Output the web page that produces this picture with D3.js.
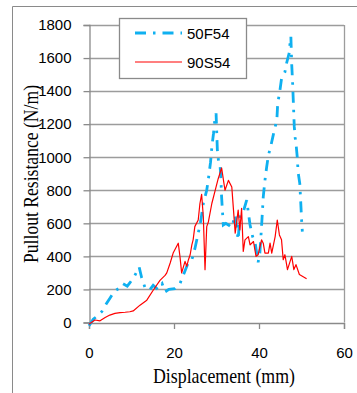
<!DOCTYPE html>
<html>
<head>
<meta charset="utf-8">
<script src="https://cdn.jsdelivr.net/npm/d3@7"></script>
<style>
	body { margin: 0; background: #fff; }
	svg { display: block; }
</style>
</head>
<body>
<svg id="chart" width="357" height="393"></svg>
<script>
// series names
var seriesNames = ['50F54', '90S54'];

// 50F54 : [displacement mm, resistance N/m]
var f54 = [[0,-20],[1,20],[2,40],[3,65],[4,110],[5,150],[6,190],[7,205],[8,235],[9,220],[9.6,240],[10.5,270],[11.2,305],[11.8,335],
	[12.4,270],[13.2,210],[14.2,195],[15.1,225],[16.2,200],[17.2,235],[17.9,185],[18.8,200],[20.2,205],[21.4,235],[22.4,300],[23.4,365],
	[24.2,380],[24.9,445],[25.7,540],[26.3,615],[26.9,720],[27.7,800],[28.1,870],[28.6,970],[28.9,1060],[29.3,1145],[29.6,1225],[29.9,1265],
	[30.2,1045],[30.5,970],[30.8,960],[31.0,890],[31.2,760],[31.6,590],[32.2,600],[32.8,590],[33.6,575],[34.4,650],[35.1,500],[35.5,650],
	[36.3,670],[37.1,740],[37.9,590],[38.5,520],[39.1,480],[39.8,365],[40.2,420],[40.6,580],[41.0,760],[41.4,860],[41.8,940],[42.2,1010],
	[42.8,1070],[43.4,1140],[44.2,1225],[44.4,1325],[44.9,1400],[45.3,1475],[46.1,1515],[46.5,1570],[47.1,1630],[47.3,1690],[47.5,1730],
	[47.7,1560],[47.9,1455],[48.1,1320],[48.3,1185],[48.5,1120],[48.7,1085],[49.0,1000],[49.2,910],[49.6,840],[49.8,740],[50.0,630],[50.2,550]];

// 90S54
var s54 = [[0,-10],[1.4,15],[2.6,10],[3.8,30],[4.9,45],[6.1,55],[7.3,60],[8.5,62],[9.6,65],[10.4,70],[12,105],[13.6,135],[15.1,195],
	[16.7,255],[17.9,285],[18.3,300],[19.1,360],[19.8,420],[21,480],[21.4,400],[21.8,300],[22.6,370],[23,340],[23.4,380],[23.8,410],
	[24.2,470],[24.5,500],[24.9,580],[25.7,620],[26.1,720],[26.5,775],[26.9,640],[27.3,320],[27.7,580],[28.1,610],[28.9,720],[29.6,790],
	[30.4,870],[31.2,935],[32,800],[32.8,860],[33.6,820],[34.0,680],[34.4,540],[35.1,680],[35.5,560],[35.9,690],[36.3,430],[36.7,500],
	[37.5,520],[37.9,470],[38.7,490],[39.3,400],[39.8,410],[40.6,500],[41.0,480],[41.4,420],[42.2,420],[42.6,480],[43.0,420],[43.8,520],
	[44.3,620],[44.8,530],[45.3,500],[45.7,380],[46.1,410],[46.7,320],[47.7,400],[48.2,320],[48.7,350],[49.5,290],[50.4,277],[51.2,265]];

var xTicks = [0, 20, 40, 60];
var yTicks = [0, 200, 400, 600, 800, 1000, 1200, 1400, 1600, 1800];

var svg = d3.select('#chart');

var plotLeft = 89, plotRight = 344, plotTop = 25, plotBottom = 322.5;

var x = d3.scaleLinear().domain([0, 60]).range([plotLeft, plotRight]);
var y = d3.scaleLinear().domain([0, 1800]).range([plotBottom, plotTop]);

// outer frame, cut off by the picture
svg.append('path')
	.attr('d', 'M12.5,400 V6.5 H400')
	.attr('fill', 'none')
	.attr('stroke', '#8a8a8a')
	.attr('stroke-width', 1);

// gridlines
svg.append('g')
	.selectAll('line')
	.data(yTicks.slice(1))
	.enter().append('line')
	.attr('x1', plotLeft).attr('x2', plotRight)
	.attr('y1', function(d) { return Math.round(y(d)) + 0.5; })
	.attr('y2', function(d) { return Math.round(y(d)) + 0.5; })
	.attr('stroke', '#9c9c9c')
	.attr('stroke-width', 1.3);

// right border of plot
svg.append('line')
	.attr('x1', plotRight + 0.5).attr('x2', plotRight + 0.5)
	.attr('y1', plotTop).attr('y2', plotBottom)
	.attr('stroke', '#9c9c9c')
	.attr('stroke-width', 1.3);

var yAxis = svg.append('g')
	.attr('transform', 'translate(' + (plotLeft + 0.5) + ',0)')
	.call(d3.axisLeft(y).tickValues(yTicks).tickSize(6).tickPadding(12).tickFormat(d3.format('d')));

var xAxis = svg.append('g')
	.attr('transform', 'translate(0,' + (plotBottom + 0.5) + ')')
	.call(d3.axisBottom(x).tickValues(xTicks).tickSize(6).tickPadding(18));

[xAxis, yAxis].forEach(function(a) {
	a.select('.domain').attr('stroke', '#8a8a8a').attr('stroke-width', 1.3);
	a.selectAll('.tick line').attr('stroke', '#8a8a8a').attr('stroke-width', 1.3);
	a.selectAll('.tick text')
		.attr('fill', '#000')
		.style('font-family', '"Liberation Sans", Arial, sans-serif')
		.style('font-size', '15px');
});

var line = d3.line()
	.x(function(d) { return x(d[0]); })
	.y(function(d) { return y(d[1]); });

svg.append('path')
	.datum(f54)
	.attr('d', line)
	.attr('fill', 'none')
	.attr('stroke', '#0fb0f0')
	.attr('stroke-width', 2.8)
	.attr('stroke-dasharray', '11,7,2.5,7');

svg.append('path')
	.datum(s54)
	.attr('d', line)
	.attr('fill', 'none')
	.attr('stroke', '#ff0000')
	.attr('stroke-width', 1.2)
	.attr('stroke-linejoin', 'round');

// axis titles (narrow serif, squeezed to the measured length)
svg.append('text')
	.attr('x', 224)
	.attr('y', 383)
	.attr('text-anchor', 'middle')
	.attr('textLength', 142)
	.attr('lengthAdjust', 'spacingAndGlyphs')
	.style('font-family', '"Liberation Serif", "Times New Roman", serif')
	.style('font-size', '22px')
	.text('Displacement (mm)');

svg.append('text')
	.attr('transform', 'translate(38,174) rotate(-90)')
	.attr('text-anchor', 'middle')
	.attr('textLength', 178)
	.attr('lengthAdjust', 'spacingAndGlyphs')
	.style('font-family', '"Liberation Serif", "Times New Roman", serif')
	.style('font-size', '22px')
	.text('Pullout Resistance (N/m)');

// legend
var legend = svg.append('g');
legend.append('rect')
	.attr('x', 119.5).attr('y', 18.5)
	.attr('width', 127).attr('height', 60)
	.attr('fill', '#fff')
	.attr('stroke', '#8a8a8a')
	.attr('stroke-width', 1.3);

var legendStyle = [
	{ color: '#0fb0f0', width: 2.8, dash: '11,7,2.5,7', ly: 33 },
	{ color: '#ff0000', width: 1.2, dash: null, ly: 62 }
];

seriesNames.forEach(function(name, i) {
	var s = legendStyle[i];
	legend.append('line')
		.attr('x1', 135).attr('x2', 182)
		.attr('y1', s.ly).attr('y2', s.ly)
		.attr('stroke', s.color)
		.attr('stroke-width', s.width)
		.attr('stroke-dasharray', s.dash);
	legend.append('text')
		.attr('x', 187)
		.attr('y', s.ly + 5.5)
		.style('font-family', '"Liberation Sans", Arial, sans-serif')
		.style('font-size', '15px')
		.text(name);
});
</script>
</body>
</html>
